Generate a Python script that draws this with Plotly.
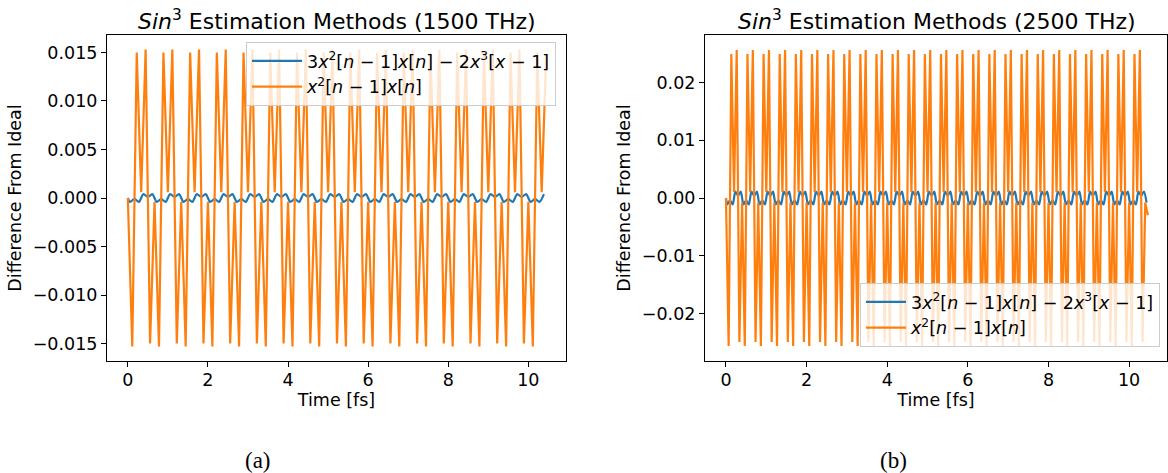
import plotly.graph_objects as go

# Sample step (fs) of the plotted error traces: six vertices per optical period
STEP_A = 1 / 9     # 1500 THz -> period 0.667 fs
STEP_B = 1 / 15    # 2500 THz -> period 0.400 fs

# 1500 THz: x^2[n-1]x[n] error
orange_a = [
    0.0, -0.0153, 0.0150, 0.0006, 0.0153, -0.0150,
    -0.0004, -0.0153, 0.0150, 0.0006, 0.0153, -0.0150,
    -0.0004, -0.0153, 0.0150, 0.0006, 0.0153, -0.0150,
    -0.0004, -0.0153, 0.0150, 0.0006, 0.0153, -0.0150,
    -0.0004, -0.0153, 0.0150, 0.0006, 0.0153, -0.0150,
    -0.0004, -0.0153, 0.0150, 0.0006, 0.0153, -0.0150,
    -0.0004, -0.0153, 0.0150, 0.0006, 0.0153, -0.0150,
    -0.0004, -0.0153, 0.0150, 0.0006, 0.0153, -0.0150,
    -0.0004, -0.0153, 0.0150, 0.0006, 0.0153, -0.0150,
    -0.0004, -0.0153, 0.0150, 0.0006, 0.0153, -0.0150,
    -0.0004, -0.0153, 0.0150, 0.0006, 0.0153, -0.0150,
    -0.0004, -0.0153, 0.0150, 0.0006, 0.0153, -0.0150,
    -0.0004, -0.0153, 0.0150, 0.0006, 0.0153, -0.0150,
    -0.0004, -0.0153, 0.0150, 0.0006, 0.0153, -0.0150,
    -0.0004, -0.0153, 0.0150, 0.0006, 0.0153, -0.0150,
    -0.0004, -0.0153, 0.0150, 0.0006, 0.0148,
]

# 1500 THz: 3x^2[n-1]x[n] - 2x^3[x-1] error (half-step offset vertices)
blue_a = [
    0.0,
    -0.0004, -0.0001, -0.0004, 0.0004, 0.0001, 0.0004,
    -0.0004, -0.0001, -0.0004, 0.0004, 0.0001, 0.0004,
    -0.0004, -0.0001, -0.0004, 0.0004, 0.0001, 0.0004,
    -0.0004, -0.0001, -0.0004, 0.0004, 0.0001, 0.0004,
    -0.0004, -0.0001, -0.0004, 0.0004, 0.0001, 0.0004,
    -0.0004, -0.0001, -0.0004, 0.0004, 0.0001, 0.0004,
    -0.0004, -0.0001, -0.0004, 0.0004, 0.0001, 0.0004,
    -0.0004, -0.0001, -0.0004, 0.0004, 0.0001, 0.0004,
    -0.0004, -0.0001, -0.0004, 0.0004, 0.0001, 0.0004,
    -0.0004, -0.0001, -0.0004, 0.0004, 0.0001, 0.0004,
    -0.0004, -0.0001, -0.0004, 0.0004, 0.0001, 0.0004,
    -0.0004, -0.0001, -0.0004, 0.0004, 0.0001, 0.0004,
    -0.0004, -0.0001, -0.0004, 0.0004, 0.0001, 0.0004,
    -0.0004, -0.0001, -0.0004, 0.0004, 0.0001, 0.0004,
    -0.0004, -0.0001, -0.0004, 0.0004, 0.0001, 0.0004,
    -0.0004, -0.0001, -0.0004, 0.0004,
]

# 2500 THz: x^2[n-1]x[n] error
orange_b = [
    0.0, -0.0256, 0.0249, 0.0010, 0.0256, -0.0249,
    -0.0008, -0.0256, 0.0249, 0.0010, 0.0256, -0.0249,
    -0.0008, -0.0256, 0.0249, 0.0010, 0.0256, -0.0249,
    -0.0008, -0.0256, 0.0249, 0.0010, 0.0256, -0.0249,
    -0.0008, -0.0256, 0.0249, 0.0010, 0.0256, -0.0249,
    -0.0008, -0.0256, 0.0249, 0.0010, 0.0256, -0.0249,
    -0.0008, -0.0256, 0.0249, 0.0010, 0.0256, -0.0249,
    -0.0008, -0.0256, 0.0249, 0.0010, 0.0256, -0.0249,
    -0.0008, -0.0256, 0.0249, 0.0010, 0.0256, -0.0249,
    -0.0008, -0.0256, 0.0249, 0.0010, 0.0256, -0.0249,
    -0.0008, -0.0256, 0.0249, 0.0010, 0.0256, -0.0249,
    -0.0008, -0.0256, 0.0249, 0.0010, 0.0256, -0.0249,
    -0.0008, -0.0256, 0.0249, 0.0010, 0.0256, -0.0249,
    -0.0008, -0.0256, 0.0249, 0.0010, 0.0256, -0.0249,
    -0.0008, -0.0256, 0.0249, 0.0010, 0.0256, -0.0249,
    -0.0008, -0.0256, 0.0249, 0.0010, 0.0256, -0.0249,
    -0.0008, -0.0256, 0.0249, 0.0010, 0.0256, -0.0249,
    -0.0008, -0.0256, 0.0249, 0.0010, 0.0256, -0.0249,
    -0.0008, -0.0256, 0.0249, 0.0010, 0.0256, -0.0249,
    -0.0008, -0.0256, 0.0249, 0.0010, 0.0256, -0.0249,
    -0.0008, -0.0256, 0.0249, 0.0010, 0.0256, -0.0249,
    -0.0008, -0.0256, 0.0249, 0.0010, 0.0256, -0.0249,
    -0.0008, -0.0256, 0.0249, 0.0010, 0.0256, -0.0249,
    -0.0008, -0.0256, 0.0249, 0.0010, 0.0256, -0.0249,
    -0.0008, -0.0256, 0.0249, 0.0010, 0.0256, -0.0249,
    -0.0008, -0.0256, 0.0249, 0.0010, 0.0256, -0.0249,
    -0.0008, -0.0030,
]

# 2500 THz: 3x^2[n-1]x[n] - 2x^3[x-1] error (half-step offset vertices)
blue_b = [
    0.0,
    -0.0011, -0.0004, -0.0011, 0.0011, 0.0004, 0.0011,
    -0.0011, -0.0004, -0.0011, 0.0011, 0.0004, 0.0011,
    -0.0011, -0.0004, -0.0011, 0.0011, 0.0004, 0.0011,
    -0.0011, -0.0004, -0.0011, 0.0011, 0.0004, 0.0011,
    -0.0011, -0.0004, -0.0011, 0.0011, 0.0004, 0.0011,
    -0.0011, -0.0004, -0.0011, 0.0011, 0.0004, 0.0011,
    -0.0011, -0.0004, -0.0011, 0.0011, 0.0004, 0.0011,
    -0.0011, -0.0004, -0.0011, 0.0011, 0.0004, 0.0011,
    -0.0011, -0.0004, -0.0011, 0.0011, 0.0004, 0.0011,
    -0.0011, -0.0004, -0.0011, 0.0011, 0.0004, 0.0011,
    -0.0011, -0.0004, -0.0011, 0.0011, 0.0004, 0.0011,
    -0.0011, -0.0004, -0.0011, 0.0011, 0.0004, 0.0011,
    -0.0011, -0.0004, -0.0011, 0.0011, 0.0004, 0.0011,
    -0.0011, -0.0004, -0.0011, 0.0011, 0.0004, 0.0011,
    -0.0011, -0.0004, -0.0011, 0.0011, 0.0004, 0.0011,
    -0.0011, -0.0004, -0.0011, 0.0011, 0.0004, 0.0011,
    -0.0011, -0.0004, -0.0011, 0.0011, 0.0004, 0.0011,
    -0.0011, -0.0004, -0.0011, 0.0011, 0.0004, 0.0011,
    -0.0011, -0.0004, -0.0011, 0.0011, 0.0004, 0.0011,
    -0.0011, -0.0004, -0.0011, 0.0011, 0.0004, 0.0011,
    -0.0011, -0.0004, -0.0011, 0.0011, 0.0004, 0.0011,
    -0.0011, -0.0004, -0.0011, 0.0011, 0.0004, 0.0011,
    -0.0011, -0.0004, -0.0011, 0.0011, 0.0004, 0.0011,
    -0.0011, -0.0004, -0.0011, 0.0011, 0.0004, 0.0011,
    -0.0011, -0.0004, -0.0011, 0.0011, 0.0004, 0.0011,
    -0.0011, -0.0004, -0.0011, 0.0011, 0.0004, 0.0011,
    -0.0008,
]

x_ticks = [0, 2, 4, 6, 8, 10]
y_ticks_a = [-0.015, -0.010, -0.005, 0.0, 0.005, 0.010, 0.015]
y_ticks_b = [-0.02, -0.01, 0.0, 0.01, 0.02]

titles = ["<i>Sin</i><sup>3</sup> Estimation Methods (1500 THz)",
          "<i>Sin</i><sup>3</sup> Estimation Methods (2500 THz)"]
captions = ["(a)", "(b)"]
label_blue = ("3<i>x</i><sup>2</sup>[<i>n</i> − 1]<i>x</i>[<i>n</i>] − "
              "2<i>x</i><sup>3</sup>[<i>x</i> − 1]")
label_orange = "<i>x</i><sup>2</sup>[<i>n</i> − 1]<i>x</i>[<i>n</i>]"

BLUE = "#1f77b4"
ORANGE = "#ff7f0e"
FONT = "DejaVu Sans"
W, H = 1168, 473
LW = 2.2


def sample_times(n, step):
    return [k * step for k in range(n)]


def offset_times(n, step):
    return [0.0] + [(j + 0.5) * step for j in range(n - 1)]


fig = go.Figure()

fig.add_trace(go.Scatter(x=offset_times(len(blue_a), STEP_A), y=blue_a, mode="lines",
                         line=dict(color=BLUE, width=LW, shape="spline", smoothing=0.8),
                         name=label_blue, xaxis="x", yaxis="y", legend="legend"))
fig.add_trace(go.Scatter(x=sample_times(len(orange_a), STEP_A), y=orange_a, mode="lines",
                         line=dict(color=ORANGE, width=LW), name=label_orange,
                         xaxis="x", yaxis="y", legend="legend"))
fig.add_trace(go.Scatter(x=offset_times(len(blue_b), STEP_B), y=blue_b, mode="lines",
                         line=dict(color=BLUE, width=LW, shape="spline", smoothing=0.8),
                         name=label_blue, xaxis="x2", yaxis="y2", legend="legend2"))
fig.add_trace(go.Scatter(x=sample_times(len(orange_b), STEP_B), y=orange_b, mode="lines",
                         line=dict(color=ORANGE, width=LW), name=label_orange,
                         xaxis="x2", yaxis="y2", legend="legend2"))

frame_top, frame_bottom = 35, 361
y_dom = [(H - frame_bottom) / H, (H - frame_top) / H]
left_a, right_a = 107, 566
left_b, right_b = 705, 1167

axis_common = dict(
    showline=True, mirror=True, linecolor="black", linewidth=1.1,
    ticks="outside", ticklen=5, tickwidth=1.1, tickcolor="black",
    showgrid=False, zeroline=False,
    tickfont=dict(family=FONT, size=17.5, color="black"),
    title_font=dict(family=FONT, size=17.5, color="black"),
)

legend_common = dict(
    xanchor="right", yanchor="top",
    bgcolor="rgba(255,255,255,0.8)", bordercolor="#cccccc", borderwidth=1,
    font=dict(family=FONT, size=17.5, color="black"),
)

fig.update_layout(
    width=W, height=H,
    margin=dict(l=0, r=0, t=0, b=0),
    paper_bgcolor="white", plot_bgcolor="white",
    xaxis=dict(domain=[left_a / W, right_a / W], anchor="y", range=[-0.52, 10.94],
               tickvals=x_ticks, ticklabelstandoff=-2,
               title=dict(text="Time [fs]", standoff=1), **axis_common),
    yaxis=dict(domain=y_dom, anchor="x", range=[-0.0168, 0.0168],
               tickvals=y_ticks_a, tickformat=".3f",
               title=dict(text="Difference From Ideal", standoff=6), **axis_common),
    xaxis2=dict(domain=[left_b / W, right_b / W], anchor="y2", range=[-0.52, 10.94],
                tickvals=x_ticks, ticklabelstandoff=-2,
                title=dict(text="Time [fs]", standoff=1), **axis_common),
    yaxis2=dict(domain=y_dom, anchor="x2", range=[-0.0282, 0.0282],
                tickvals=y_ticks_b, tickformat=".2f",
                title=dict(text="Difference From Ideal", standoff=6), **axis_common),
    legend=dict(x=556 / W, y=(H - 42) / H, itemwidth=50, **legend_common),
    legend2=dict(x=1160 / W, y=(H - 283) / H, itemwidth=40, **legend_common),
    showlegend=True,
)

title_x = [(left_a + right_a) / 2 / W, (left_b + 1169) / 2 / W]
caption_x = [258 / W, 893 / W]
for tx, cx, title, cap in zip(title_x, caption_x, titles, captions):
    fig.add_annotation(x=tx, y=(H - 20) / H, xref="paper", yref="paper",
                       text=title, showarrow=False, xanchor="center", yanchor="middle",
                       font=dict(family=FONT, size=22, color="black"))
    fig.add_annotation(x=cx, y=(H - 460) / H, xref="paper", yref="paper",
                       text=cap, showarrow=False, xanchor="center", yanchor="middle",
                       font=dict(family="Liberation Serif", size=23, color="black"))

fig.write_html("out.html")
